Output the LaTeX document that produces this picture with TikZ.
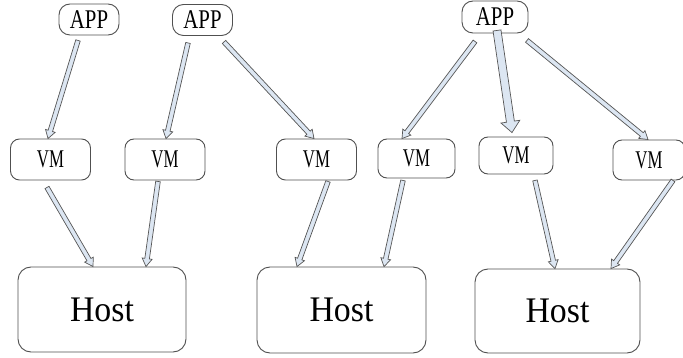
\documentclass[tikz,border=0pt]{standalone}
\usepackage{graphicx}
\usepackage{fontspec}
\setmainfont{Liberation Serif}
\usetikzlibrary{calc}

\definecolor{boxline}{HTML}{505050}
\definecolor{arrowline}{HTML}{555555}
\definecolor{arrowfill}{HTML}{DCE6F2}

\tikzset{
  box/.style={draw=boxline, line width=0.9pt, fill=white, rectangle, inner sep=0pt},
  appbox/.style={box, rounded corners=11pt, minimum width=60pt, minimum height=31pt,
    font=\fontsize{27}{27}\selectfont},
  vmbox/.style={box, rounded corners=9pt, minimum width=80pt, minimum height=41pt,
    font=\fontsize{25.5}{25.5}\selectfont},
  hostbox/.style={box, rounded corners=13pt, minimum width=168pt, minimum height=85pt,
    font=\fontsize{36}{36}\selectfont},
  blockarrow/.style={draw=arrowline, fill=arrowfill, line width=0.7pt, line join=miter},
}

% Hollow block arrow: #1 tail, #2 tip, #3 shaft half width, #4 head half width, #5 head length
\newcommand\hollowarrow[5]{%
  \filldraw[blockarrow]
    ($(#1)!#3!90:(#2)$) --
    ($(#2)!#5!(#1)!#3!90:(#2)$) --
    ($(#2)!#5!(#1)!#4!90:(#2)$) --
    (#2) --
    ($(#2)!#5!(#1)!#4!-90:(#2)$) --
    ($(#2)!#5!(#1)!#3!-90:(#2)$) --
    ($(#1)!#3!-90:(#2)$) -- cycle;}
\newcommand\thinarrow[2]{\hollowarrow{#1}{#2}{2.3pt}{5pt}{8pt}}

\newcommand\narrow[1]{\scalebox{0.77}[1]{#1}}
\newcommand\nvm[1]{\scalebox{0.66}[1]{#1}}
\newcommand\nhost[1]{\scalebox{0.94}[1]{#1}}

\begin{document}
\begin{tikzpicture}[x=1pt, y=-1pt]
\useasboundingbox (0,0) rectangle (683,358);

% top row
\node[appbox] (app1) at (89,19.5) {\narrow{APP}};
\node[appbox] (app2) at (202.5,20) {\narrow{APP}};
\node[appbox, minimum width=66pt, minimum height=32pt] (app3) at (495,17) {\narrow{APP}};

% virtual machines
\node[vmbox] (vm1) at (50.5,159.5) {\nvm{VM}};
\node[vmbox] (vm2) at (165,159.5) {\nvm{VM}};
\node[vmbox] (vm3) at (316.5,159.5) {\nvm{VM}};
\node[vmbox, minimum width=77pt, minimum height=39pt] (vm4) at (416.5,158.5) {\nvm{VM}};
\node[vmbox, minimum width=74pt, minimum height=37pt] (vm5) at (516,155.5) {\nvm{VM}};
\node[vmbox, minimum width=72pt, minimum height=40pt] (vm6) at (649,160) {\nvm{VM}};

% hosts
\node[hostbox] (h1) at (102,309.5) {\nhost{Host}};
\node[hostbox, minimum width=169pt, minimum height=86pt] (h2) at (341.5,310) {\nhost{Host}};
\node[hostbox, minimum width=165pt, minimum height=84pt] (h3) at (557.5,311) {\nhost{Host}};

% arrow ends
\coordinate (a1t) at ($(app1.south)+(-11,5)$);
\coordinate (a1h) at ($(vm1.north)+(-2.5,0)$);
\coordinate (a2t) at ($(app2.south)+(-14.5,7)$);
\coordinate (a2h) at ($(vm2.north)+(1,0)$);
\coordinate (a3t) at ($(app2.south)+(21.5,6)$);
\coordinate (a3h) at ($(vm3.north)+(-2.5,0)$);
\coordinate (a4t) at ($(app3.south)+(-20,8)$);
\coordinate (a4h) at ($(vm4.north)+(-14.5,0)$);
\coordinate (a5t) at ($(app3.south)+(2,-3)$);
\coordinate (a5h) at ($(vm5.north)+(-4,-4)$);
\coordinate (a6t) at ($(app3.south)+(32,7)$);
\coordinate (a6h) at ($(vm6.north)+(-1,0)$);

\coordinate (b1t) at ($(vm1.south)+(-3.5,7)$);
\coordinate (b1h) at ($(h1.north)+(-9,0)$);
\coordinate (b2t) at ($(vm2.south)+(-7,1)$);
\coordinate (b2h) at ($(h1.north)+(44,0)$);
\coordinate (b3t) at ($(vm3.south)+(11.5,1)$);
\coordinate (b3h) at ($(h2.north)+(-44.5,0)$);
\coordinate (b4t) at ($(vm4.south)+(-13.5,2)$);
\coordinate (b4h) at ($(h2.north)+(42.5,0)$);
\coordinate (b5t) at ($(vm5.south)+(19,6)$);
\coordinate (b5h) at ($(h3.north)+(-2.5,0)$);
\coordinate (b6t) at ($(vm6.south)+(24,0)$);
\coordinate (b6h) at ($(h3.north)+(53.5,0)$);

% application to VM
\thinarrow{a1t}{a1h}
\thinarrow{a2t}{a2h}
\thinarrow{a3t}{a3h}
\thinarrow{a4t}{a4h}
\hollowarrow{a5t}{a5h}{4pt}{9.5pt}{11pt}
\thinarrow{a6t}{a6h}

% VM to host
\thinarrow{b1t}{b1h}
\thinarrow{b2t}{b2h}
\thinarrow{b3t}{b3h}
\thinarrow{b4t}{b4h}
\thinarrow{b5t}{b5h}
\thinarrow{b6t}{b6h}
\end{tikzpicture}
\end{document}
